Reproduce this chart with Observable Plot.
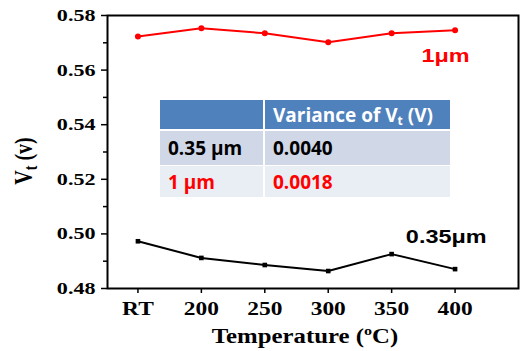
<!DOCTYPE html>
<html>
<head>
<meta charset="utf-8">
<script src="https://cdn.jsdelivr.net/npm/d3@7"></script>
<script src="https://cdn.jsdelivr.net/npm/@observablehq/plot@0.6"></script>
<style>
  html, body { margin: 0; padding: 0; background: #fff; }
  #wrap { position: relative; width: 523px; height: 351px; overflow: hidden; }
  #tbl { position: absolute; left: 160px; top: 100px; border-collapse: collapse;
         font-family: "Open Sans", sans-serif; font-weight: bold; font-size: 19px; }
  #tbl td { padding: 0 0 0 8px; white-space: nowrap; }
  #tbl tr.h td { background: #4F81BD; color: #fff; height: 29px; border-bottom: 2px solid #fff; }
  #tbl tr.r1 td { background: #D0D8E8; color: #000; height: 34px; border-bottom: 1px solid #fff; }
  #tbl tr.r2 td { background: #E9EDF4; color: #f00; height: 31px; }
  #tbl td.c1 { width: 95px; border-right: 2px solid #fff; }
  #tbl td.c2 { width: 177px; }
  #tbl sub { font-size: 12px; vertical-align: -3px; line-height: 0; }
</style>
</head>
<body>
<div id="wrap"></div>
<script>
// ---- data ----
const temps = ["RT", "200", "250", "300", "350", "400"];
const vt035 = [0.4973, 0.4912, 0.4886, 0.4864, 0.4926, 0.4871];
const vt1 = [0.5723, 0.5753, 0.5735, 0.5702, 0.5735, 0.5746];
const yTicks = [0.48, 0.50, 0.52, 0.54, 0.56, 0.58];
const yMinor = [0.49, 0.51, 0.53, 0.55, 0.57];
const seriesLabels = ["1μm", "0.35μm"];
const seriesLabelX = [4.85, 4.86];
const seriesLabelY = [0.5651, 0.4988];
const seriesColors = ["red", "black"];
const tableRows = ["0.35 μm", "1 μm"];
const tableVariance = ["0.0040", "0.0018"];

const idx = temps.map((_, i) => i);
const pts1 = idx.map(i => ({i, v: vt1[i]}));
const pts035 = idx.map(i => ({i, v: vt035[i]}));
const lbls = seriesLabels.map((t, k) => ({t, x: seriesLabelX[k], y: seriesLabelY[k], c: seriesColors[k]}));

const serif = "Liberation Serif, Times New Roman, serif";
const chart = Plot.plot({
  width: 523,
  height: 351,
  marginLeft: 107,
  marginRight: 5,
  marginTop: 15,
  marginBottom: 63,
  style: {fontFamily: serif, background: "white", overflow: "visible"},
  x: {type: "linear", domain: [-0.48, 6]},
  y: {domain: [0.48, 0.58]},
  marks: [
    Plot.axisY(yMinor, {tickSize: 4, tickFormat: () => "", label: null, strokeWidth: 1.5}),
    Plot.axisY(yTicks, {tickSize: 6, tickPadding: 6, tickFormat: d3.format(".2f"), label: null,
      fontSize: 17, fontWeight: "bold", strokeWidth: 1.5, fill: "black"}),
    Plot.axisX(idx, {tickSize: 5, tickPadding: 9, tickFormat: i => temps[i], label: null,
      fontSize: 18, fontWeight: "bold", strokeWidth: 1.5, fill: "black"}),
    Plot.frame({stroke: "black", strokeWidth: 2}),
    Plot.line(pts1, {x: "i", y: "v", stroke: "red", strokeWidth: 2}),
    Plot.dot(pts1, {x: "i", y: "v", fill: "red", r: 3}),
    Plot.line(pts035, {x: "i", y: "v", stroke: "black", strokeWidth: 2}),
    Plot.dot(pts035, {x: "i", y: "v", fill: "black", symbol: "square", r: 2.6}),
    Plot.text(lbls, {x: "x", y: "y", text: "t", fill: "c", fontSize: 18, fontWeight: "bold",
      fontFamily: "Liberation Sans, Arial, sans-serif"})
  ]
});
const wrap = document.getElementById("wrap");
wrap.appendChild(chart);

// horizontal stretch of text, as in reference
const svg = d3.select(chart);
svg.selectAll("text").each(function() {
  if (!this.textContent) return;
  const w = this.getComputedTextLength();
  if (w > 0) {
    this.setAttribute("textLength", w * 1.3);
    this.setAttribute("lengthAdjust", "spacingAndGlyphs");
  }
});

// axis titles with sub/superscripts
const xt = svg.append("text")
  .attr("transform", "translate(305,343) scale(1.24,1)")
  .attr("text-anchor", "middle")
  .style("font-family", serif).attr("font-weight", "bold").attr("font-size", 20).attr("fill", "black");
xt.append("tspan").text("Temperature (");
xt.append("tspan").attr("font-size", 13).attr("dy", -8).text("o");
xt.append("tspan").attr("dy", 8).text("C)");

const yt = svg.append("text")
  .attr("transform", "translate(32,161) rotate(-90) scale(1,1.3)")
  .attr("text-anchor", "middle")
  .style("font-family", serif).attr("font-weight", "bold").attr("font-size", 20).attr("fill", "black");
yt.append("tspan").text("V");
yt.append("tspan").attr("font-size", 14).attr("dy", 4).text("t");
yt.append("tspan").attr("dy", -4).text(" (v)");

// inset table
const tbl = document.createElement("table");
tbl.id = "tbl";
const hr = tbl.insertRow(); hr.className = "h";
const h1 = hr.insertCell(); h1.className = "c1";
const h2 = hr.insertCell(); h2.className = "c2";
h2.innerHTML = "Variance of V<sub>t</sub> (V)";
tableRows.forEach((r, k) => {
  const tr = tbl.insertRow(); tr.className = k === 0 ? "r1" : "r2";
  const a = tr.insertCell(); a.className = "c1"; a.textContent = r;
  const b = tr.insertCell(); b.className = "c2"; b.textContent = tableVariance[k];
});
wrap.appendChild(tbl);
</script>
</body>
</html>
